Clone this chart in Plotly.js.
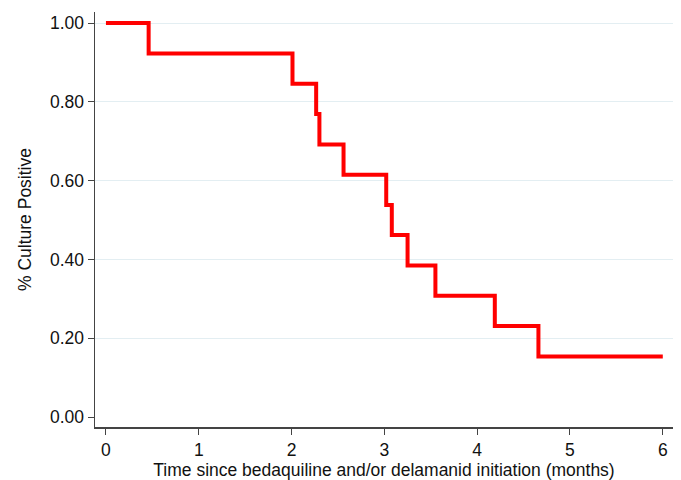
<!DOCTYPE html>
<html>
<head>
<meta charset="utf-8">
<script src="https://cdn.plot.ly/plotly-3.0.1.min.js"></script>
<style>html,body{margin:0;padding:0;background:#fff;}#chart{width:681px;height:480px;}</style>
</head>
<body>
<div id="chart"></div>
<script>
// Kaplan-Meier step curve: event times (months) and survival proportion after each step
const times = [0, 0.46, 2.01, 2.265, 2.30, 2.56, 3.02, 3.08, 3.25, 3.55, 4.19, 4.66, 6.0];
const survival = [1.000, 0.923, 0.846, 0.769, 0.692, 0.615, 0.538, 0.462, 0.385, 0.308, 0.231, 0.154, 0.154];
const xTickVals = [0, 1, 2, 3, 4, 5, 6];
const yTickVals = [0, 0.2, 0.4, 0.6, 0.8, 1.0];
const yTickText = ["0.00", "0.20", "0.40", "0.60", "0.80", "1.00"];

const font = {family: "Liberation Sans, Arial, sans-serif", size: 17.5, color: "#111"};

Plotly.newPlot("chart", [{
  x: times, y: survival, type: "scatter", mode: "lines",
  line: {shape: "hv", color: "#ff0000", width: 4},
  hoverinfo: "none"
}], {
  width: 681, height: 480,
  margin: {l: 95, r: 8, t: 12, b: 53},
  paper_bgcolor: "#fff", plot_bgcolor: "#fff",
  showlegend: false,
  font: font,
  xaxis: {
    range: [-0.118, 6.11], tickvals: xTickVals, ticks: "outside", ticklen: 6, tickcolor: "#444",
    showline: true, linecolor: "#444", linewidth: 1.5, showgrid: false, zeroline: false,
    tickfont: font,
    title: {text: "Time since bedaquiline and/or delamanid initiation (months)", font: font, standoff: 1}
  },
  yaxis: {
    range: [-0.025, 1.028], tickvals: yTickVals, ticktext: yTickText, ticks: "outside", ticklen: 6, tickcolor: "#444",
    showline: true, linecolor: "#444", linewidth: 1.5, showgrid: true, gridcolor: "#e3eef2", gridwidth: 1,
    zeroline: true, zerolinecolor: "rgba(0,0,0,0)",
    tickfont: font,
    title: {text: "% Culture Positive", font: font, standoff: 14}
  }
}, {staticPlot: true, displayModeBar: false});
</script>
</body>
</html>
